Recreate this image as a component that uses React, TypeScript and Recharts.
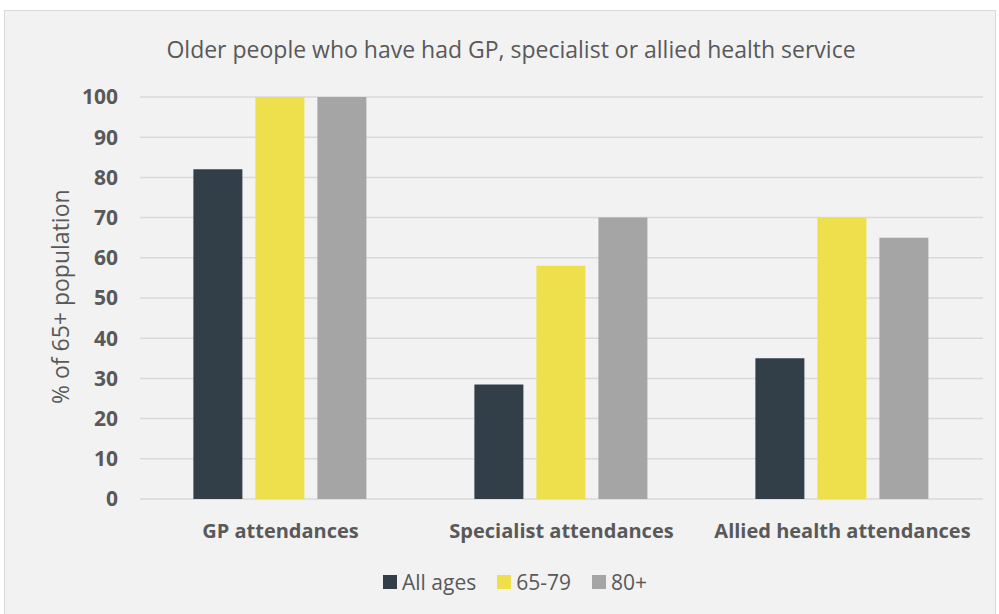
import React from 'react';
import { BarChart, Bar, XAxis, YAxis, CartesianGrid, Legend } from 'recharts';

const categories = ['GP attendances', 'Specialist attendances', 'Allied health attendances'];
const allAges = [82, 28.5, 35];
const age6579 = [100, 58, 70];
const age80plus = [100, 70, 65];
const yTicks = [0, 10, 20, 30, 40, 50, 60, 70, 80, 90, 100];

const seriesNames = ['All ages', '65-79', '80+'];
const seriesColors = ['#323e48', '#ede04c', '#a5a5a5'];

const data = categories.map((c, i) => ({
  name: c,
  all: allAges[i],
  a6579: age6579[i],
  a80: age80plus[i],
}));

const FONT = "'Open Sans', sans-serif";
const TXT = '#595959';

const LegendContent = () => (
  <div style={{ display: 'flex', justifyContent: 'center', alignItems: 'center', height: 26, fontFamily: FONT, fontSize: 21, color: TXT, paddingRight: 33 }}>
    {seriesNames.map((n, i) => (
      <div key={n} style={{ display: 'flex', alignItems: 'center', marginLeft: i === 0 ? 0 : 21 }}>
        <span style={{ display: 'inline-block', width: 14, height: 14, background: seriesColors[i], marginRight: 5 }} />
        <span style={{ lineHeight: '26px' }}>{n}</span>
      </div>
    ))}
  </div>
);

export default function App() {
  return (
    <div style={{ position: 'absolute', left: 0, top: 0, width: 999, height: 614, background: '#fff', fontFamily: FONT, overflow: 'hidden' }}>
      <div style={{ position: 'absolute', left: 4, top: 10, width: 990, height: 620, background: '#f2f2f2', border: '1px solid #d9d9d9' }} />
      <div style={{ position: 'absolute', left: 0, top: 33, width: 1022, textAlign: 'center', fontSize: 23, color: TXT, whiteSpace: 'nowrap' }}>
        Older people who have had GP, specialist or allied health service
      </div>
      <div style={{ position: 'absolute', left: 0, top: 0 }}>
        <BarChart width={999} height={614} data={data} margin={{ top: 97, right: 16, bottom: 59, left: 80 }} barCategoryGap="19%" barGap={13}>
          <CartesianGrid vertical={false} stroke="#d9d9d9" strokeWidth={1.5} />
          <XAxis dataKey="name" axisLine={false} tickLine={false} interval={0}
            tick={{ fill: TXT, fontSize: 20, fontWeight: 700, fontFamily: FONT }} dy={17} />
          <YAxis domain={[0, 100]} ticks={yTicks} axisLine={false} tickLine={false} width={60}
            tick={{ fill: TXT, fontSize: 21, fontWeight: 700, fontFamily: FONT }} dx={-14}
            label={{ value: '% of 65+ population', angle: -90, position: 'insideLeft', dx: -24, dy: 106, style: { fill: TXT, fontSize: 23, fontFamily: FONT } }} />
          <Legend verticalAlign="bottom" align="center" content={<LegendContent />}
            wrapperStyle={{ bottom: 19, height: 26 }} />
          <Bar dataKey="all" name={seriesNames[0]} fill={seriesColors[0]} isAnimationActive={false} />
          <Bar dataKey="a6579" name={seriesNames[1]} fill={seriesColors[1]} isAnimationActive={false} />
          <Bar dataKey="a80" name={seriesNames[2]} fill={seriesColors[2]} isAnimationActive={false} />
        </BarChart>
      </div>
    </div>
  );
}
